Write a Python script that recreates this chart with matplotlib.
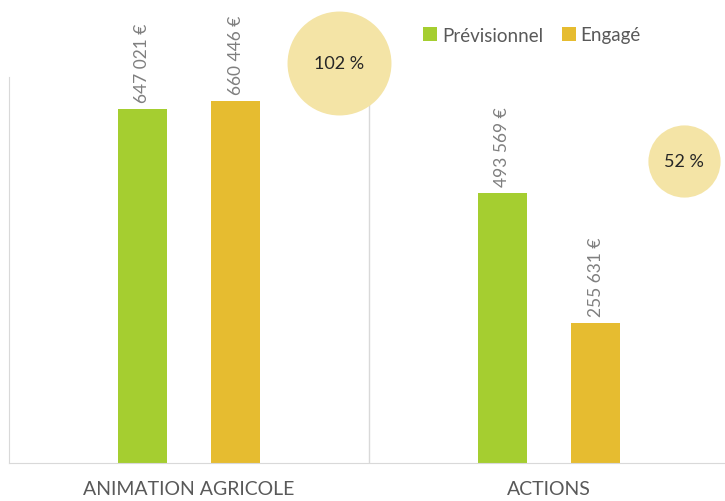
import numpy as np
import matplotlib.pyplot as plt

categories = ['ANIMATION AGRICOLE', 'ACTIONS']
previsionnel = [647021, 493569]
engage = [660446, 255631]
series_names = ['Prévisionnel', 'Engagé']

green = '#A5CE30'
yellow = '#E6BC30'
bubble = '#F4E4A6'
grey_txt = '#7F7F7F'


def euro(v):
    return '{:,}'.format(v).replace(',', ' ') + ' €'


fig = plt.figure(figsize=(7.25, 5.02), dpi=100)
ax = fig.add_axes([9 / 725, 38 / 502, 720 / 725, 386 / 502])

x = np.arange(len(categories))
w = 0.137
off = 0.13
b1 = ax.bar(x - off, previsionnel, w, color=green, label=series_names[0])
b2 = ax.bar(x + off, engage, w, color=yellow, label=series_names[1])

# value labels, rotated above each bar
for bars in (b1, b2):
    for r in bars:
        v = int(r.get_height())
        ax.annotate(euro(v), (r.get_x() + r.get_width() / 2, v),
                    xytext=(0, 5), textcoords='offset points',
                    rotation=90, ha='center', va='bottom',
                    fontsize=12.5, color=grey_txt, family='Lato',
                    annotation_clip=False)

# percentage bubbles (position is layout, value from the data)
bubble_pos = [(0.417, 731000), (1.375, 552000)]
bubble_size = [5600, 2700]
for i, (bx, by) in enumerate(bubble_pos):
    pct = round(100 * engage[i] / previsionnel[i])
    ax.scatter([bx], [by], s=bubble_size[i], color=bubble, zorder=3,
               clip_on=False, linewidths=0)
    ax.text(bx, by, '{} %'.format(pct), ha='center', va='center',
            fontsize=13, color='#262626', family='Lato', zorder=4)

ax.set_xlim(-0.5, 1.5)
ax.set_ylim(0, 705000)
ax.axvline(0.5, color='#D9D9D9', lw=1, zorder=0)
ax.set_yticks([])
ax.set_xticks(x)
ax.set_xticklabels(categories, fontsize=14, color='#595959', family='Lato')
ax.tick_params(axis='x', length=0, pad=12)
for s in ('top', 'right'):
    ax.spines[s].set_visible(False)
ax.spines['left'].set_color('#D9D9D9')
ax.spines['bottom'].set_color('#D9D9D9')

fig.legend(handles=[b1, b2], loc='center left',
           bbox_to_anchor=(423 / 725, 1 - 36 / 502), ncol=2, frameon=False,
           handlelength=0.75, handleheight=0.75, handletextpad=0.25,
           columnspacing=1.0, borderpad=0, borderaxespad=0,
           prop={'family': 'Lato', 'size': 13.5}, labelcolor='#595959')

fig.savefig('out.png', dpi=100)
